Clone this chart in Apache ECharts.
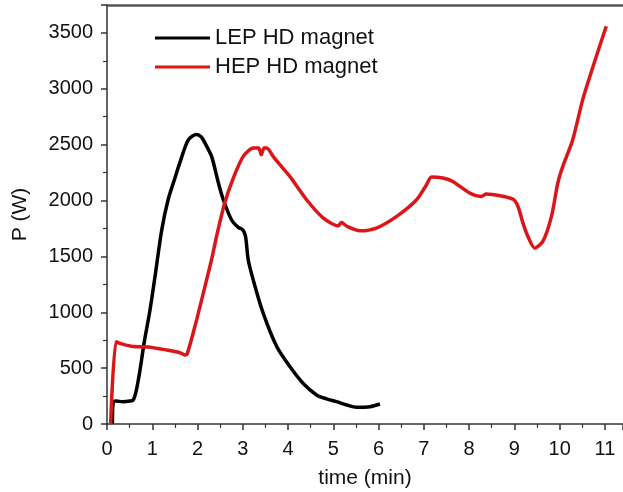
<!DOCTYPE html>
<html>
<head>
<meta charset="utf-8">
<script src="https://cdn.jsdelivr.net/npm/echarts@6/dist/echarts.min.js"></script>
<style>
    html, body { margin: 0; padding: 0; background: #fff; }
    #chart { width: 623px; height: 492px; }
</style>
</head>
<body>
<div id="chart"></div>
<script>
// LEP HD magnet (black)
const lepTime = [0.12, 0.14, 0.2, 0.35, 0.5, 0.58, 0.65, 0.73, 0.82, 0.95, 1.06, 1.21, 1.35, 1.5, 1.61, 1.8, 1.98, 2.08, 2.16, 2.31, 2.46, 2.57, 2.75, 2.9, 3.0, 3.06, 3.12, 3.23, 3.45, 3.75, 4.04, 4.33, 4.63, 4.85, 5.07, 5.3, 5.51, 5.81, 6.03];
const lepPower = [0, 200, 205, 200, 205, 215, 305, 484, 726, 1021, 1317, 1738, 2007, 2200, 2339, 2545, 2590, 2570, 2518, 2395, 2159, 2007, 1828, 1760, 1738, 1680, 1470, 1290, 992, 693, 514, 365, 260, 225, 200, 170, 150, 155, 179];

// HEP HD magnet (red)
const hepTime = [0.08, 0.2, 0.3, 0.58, 0.9, 1.32, 1.6, 1.72, 1.77, 1.98, 2.2, 2.31, 2.42, 2.6, 2.79, 3.01, 3.23, 3.35, 3.41, 3.47, 3.53, 3.67, 3.82, 4.04, 4.41, 4.78, 5.11, 5.18, 5.3, 5.59, 5.95, 6.4, 6.84, 7.06, 7.17, 7.42, 7.64, 8.01, 8.27, 8.38, 8.97, 9.08, 9.19, 9.3, 9.45, 9.63, 9.82, 9.96, 10.07, 10.29, 10.51, 10.74, 11.03];
const hepPower = [0, 737, 720, 693, 690, 663, 640, 618, 625, 932, 1290, 1470, 1678, 1977, 2201, 2395, 2470, 2470, 2410, 2470, 2470, 2395, 2321, 2216, 2007, 1843, 1774, 1804, 1770, 1729, 1753, 1858, 2007, 2142, 2211, 2201, 2171, 2067, 2037, 2058, 2013, 1947, 1798, 1678, 1574, 1634, 1858, 2157, 2306, 2545, 2903, 3202, 3560];

const seriesNames = ['LEP HD magnet', 'HEP HD magnet'];
const lineColors = ['#000000', '#dc1519'];

const zip = (xs, ys) => xs.map((x, i) => [x, ys[i]]);

const chart = echarts.init(document.getElementById('chart'));
const axisColor = '#333';
const font = 'Liberation Sans, Arial, sans-serif';

chart.setOption({
    animation: false,
    grid: { left: 107, right: 0, top: 5, bottom: 68, outerBoundsMode: 'none' },
    legend: {
        data: seriesNames,
        orient: 'vertical',
        left: 150,
        top: 22,
        itemGap: 7,
        itemWidth: 55,
        itemHeight: 3,
        icon: 'rect',
        textStyle: { fontSize: 22, color: '#111', fontFamily: font },
    },
    xAxis: [{
        type: 'value',
        min: 0,
        max: 11.4,
        interval: 1,
        name: 'time (min)',
        nameLocation: 'middle',
        nameGap: 44,
        nameTextStyle: { fontSize: 21, color: '#111', fontFamily: font },
        axisLine: { show: true, onZero: false, lineStyle: { color: axisColor, width: 1.5 } },
        axisTick: { show: true, inside: false, length: 6, lineStyle: { color: axisColor, width: 1.5 } },
        minorTick: { show: true, splitNumber: 2, length: 4, lineStyle: { color: axisColor, width: 1.2 } },
        axisLabel: { fontSize: 20, color: '#111', margin: 15, fontFamily: font, showMaxLabel: false, formatter: v => String(v) },
        splitLine: { show: false },
    }, {
        type: 'value',
        position: 'top',
        min: 0,
        max: 11.4,
        axisLine: { show: true, onZero: false, lineStyle: { color: '#555', width: 2.5 } },
        axisTick: { show: false },
        axisLabel: { show: false },
        splitLine: { show: false },
    }],
    yAxis: {
        type: 'value',
        min: 0,
        max: 3750,
        interval: 500,
        name: 'P (W)',
        nameLocation: 'middle',
        nameGap: 76,
        nameTextStyle: { fontSize: 21, color: '#111', fontFamily: font },
        axisLine: { show: true, onZero: false, lineStyle: { color: axisColor, width: 1.5 } },
        axisTick: { show: true, inside: false, length: 6, lineStyle: { color: axisColor, width: 1.5 } },
        minorTick: { show: true, splitNumber: 2, length: 4, lineStyle: { color: axisColor, width: 1.2 } },
        axisLabel: { fontSize: 20, color: '#111', margin: 14, fontFamily: font, showMaxLabel: false, formatter: v => String(v) },
        splitLine: { show: false },
    },
    series: [
        {
            name: seriesNames[0],
            type: 'line',
            data: zip(lepTime, lepPower),
            showSymbol: false,
            symbol: 'none',
            smooth: 0.3,
            itemStyle: { color: lineColors[0] },
            lineStyle: { color: lineColors[0], width: 3.5 },
        },
        {
            name: seriesNames[1],
            type: 'line',
            data: zip(hepTime, hepPower),
            showSymbol: false,
            symbol: 'none',
            smooth: 0.25,
            itemStyle: { color: lineColors[1] },
            lineStyle: { color: lineColors[1], width: 3.5 },
        },
    ],
});
</script>
</body>
</html>
